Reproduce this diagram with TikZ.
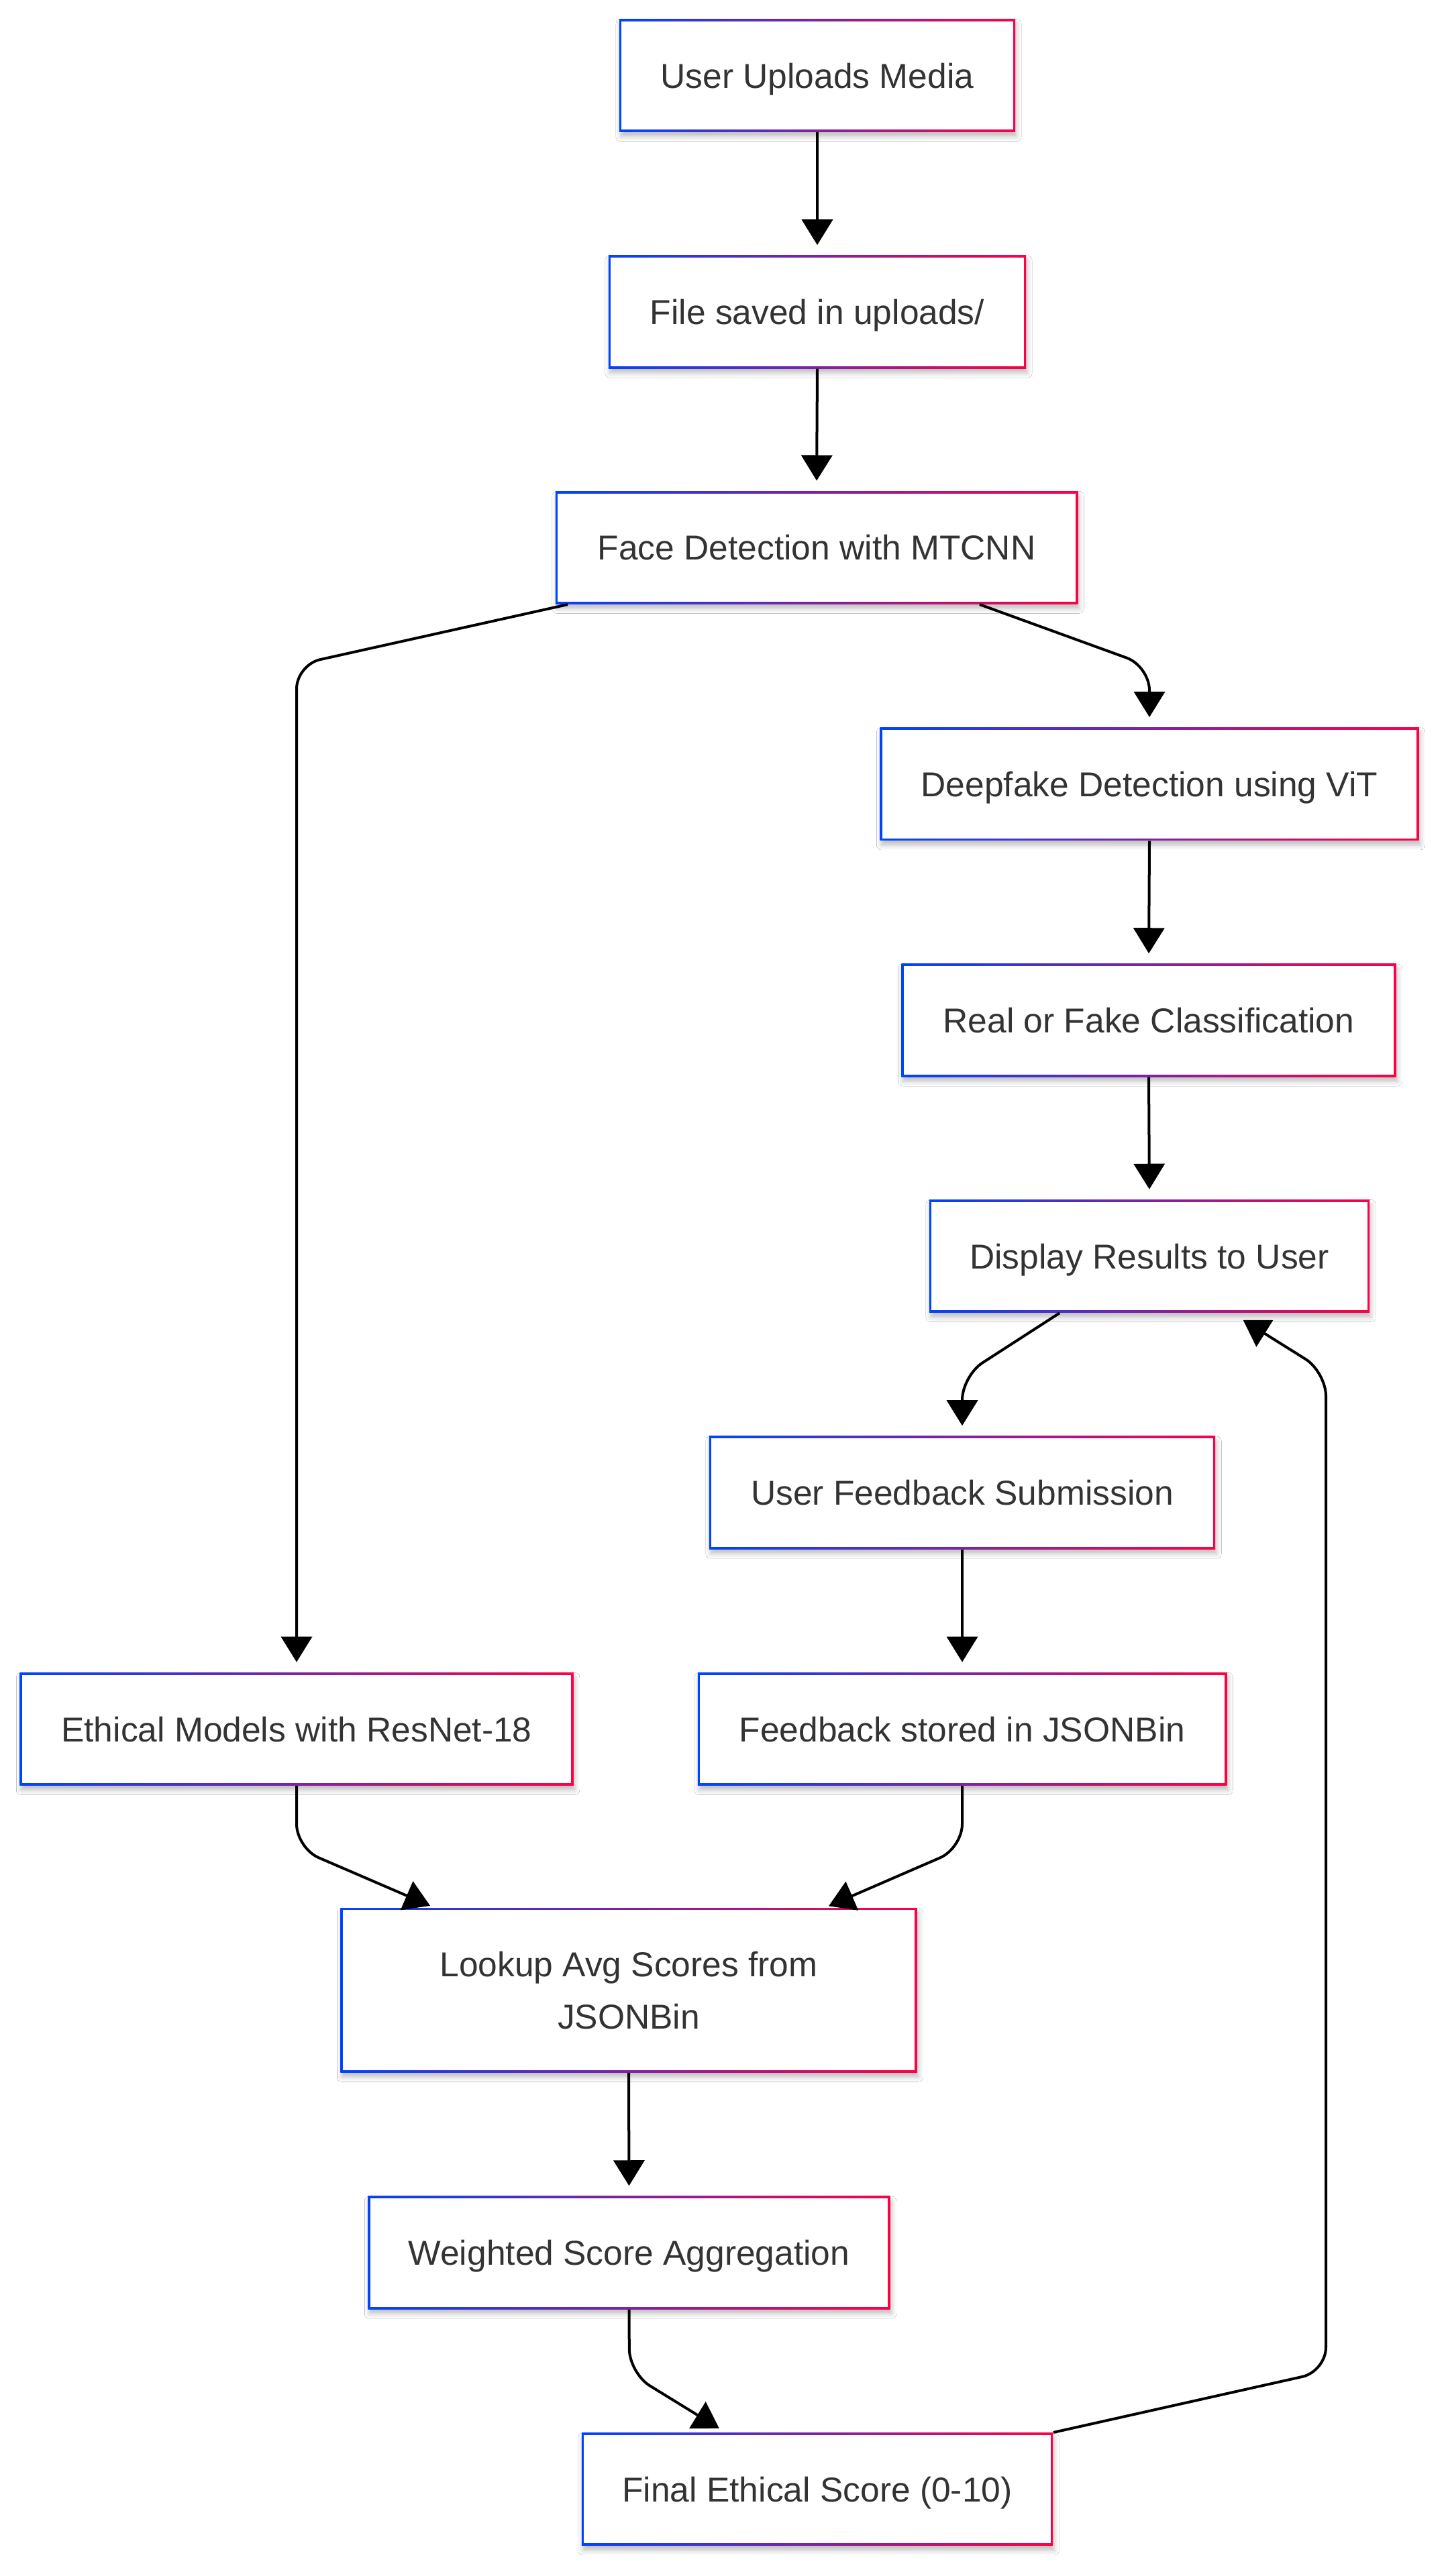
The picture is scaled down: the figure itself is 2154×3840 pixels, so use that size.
\documentclass[tikz,border=0pt]{standalone}
\usepackage{fontspec}
\setmainfont{Liberation Sans}
\usetikzlibrary{arrows.meta,calc,shadows.blur}
\definecolor{cblue}{HTML}{0044FF}
\definecolor{cred}{HTML}{FF0044}
\definecolor{tgray}{HTML}{333333}
\begin{document}
\begin{tikzpicture}[x=0.01cm,y=-0.01cm,
  box/.style={rectangle, fill=white, inner sep=0pt, minimum height=1.68cm,
    text=tgray, font=\fontsize{14.65}{22.2}\selectfont, align=center, text depth=0pt,
    blur shadow={shadow xshift=0.02cm, shadow yshift=-0.07cm, shadow blur radius=0.07cm, shadow opacity=25},
    path picture={
      \shade[left color=cblue,right color=cred] (path picture bounding box.south west) rectangle (path picture bounding box.north east);
      \fill[white] ([shift={(0.033cm,0.033cm)}]path picture bounding box.south west) rectangle ([shift={(-0.033cm,-0.033cm)}]path picture bounding box.north east);
    }},
  arr/.style={line width=0.04cm, -{Triangle[width=0.46cm,length=0.38cm]}},
  sarr/.style={arr, shorten >=0.15cm},
  carr/.style={arr, rounded corners=0.36cm},
  ]
\useasboundingbox[fill=white] (0,0) rectangle (2154,3840);

\node[box, minimum width=5.90cm] (b1) at (1218,112.6) {User Uploads Media};
\node[box, minimum width=6.22cm] (b2) at (1218,465) {File saved in uploads/};
\node[box, minimum width=7.78cm] (b3) at (1217,816.3) {Face Detection with MTCNN};
\node[box, minimum width=8.03cm] (b4) at (1713,1168.8) {Deepfake Detection using ViT};
\node[box, minimum width=7.37cm] (b5) at (1712,1521) {Real or Fake Classification};
\node[box, minimum width=6.56cm] (b6) at (1713,1872.5) {Display Results to User};
\node[box, minimum width=7.54cm] (b7) at (1434,2225) {User Feedback Submission};
\node[box, minimum width=8.25cm] (b8) at (442,2577.4) {Ethical Models with ResNet-18};
\node[box, minimum width=7.88cm] (b9) at (1434,2577.4) {Feedback stored in JSONBin};
\node[box, minimum width=8.59cm, minimum height=2.45cm] (b10) at (937,2966.6) {Lookup Avg Scores from\\JSONBin};
\node[box, minimum width=7.78cm] (b11) at (937.5,3358) {Weighted Score Aggregation};
\node[box, minimum width=7.02cm] (b12) at (1218,3710.7) {Final Ethical Score (0-10)};

\draw[sarr] (b1.south) -- (b2.north);
\draw[sarr] (b2.south) -- (b3.north);
\draw[carr, shorten >=0.15cm] ($(b3.south west)+(19,0)$) -- (442,991) -- (b8.north);
\draw[carr, shorten >=0.15cm] ($(b3.south east)+(-147,0)$) -- (1713,993) -- (b4.north);
\draw[sarr] (b4.south) -- (b5.north);
\draw[sarr] (b5.south) -- (b6.north);
\draw[carr, shorten >=0.15cm] ($(b6.south west)+(195,0)$) -- (1434,2051) -- (b7.north);
\draw[sarr] (b7.south) -- (b9.north);
\draw[carr] (b8.south) -- (442,2755) -- ($(b10.north west)+(134.5,-2.5)$);
\draw[carr] (b9.south) -- (1434,2755) -- ($(b10.north east)+(-132.5,-2)$);
\draw[sarr] (b10.south) -- (b11.north);
\draw[carr] (b11.south) -- (938,3537.6) -- ($(b12.north west)+(205.7,-6)$);
\draw[carr] (b12.north east) -- (1976,3535) -- (1976,2045) -- ($(b6.south east)+(-189.3,10.5)$);
\end{tikzpicture}
\end{document}
